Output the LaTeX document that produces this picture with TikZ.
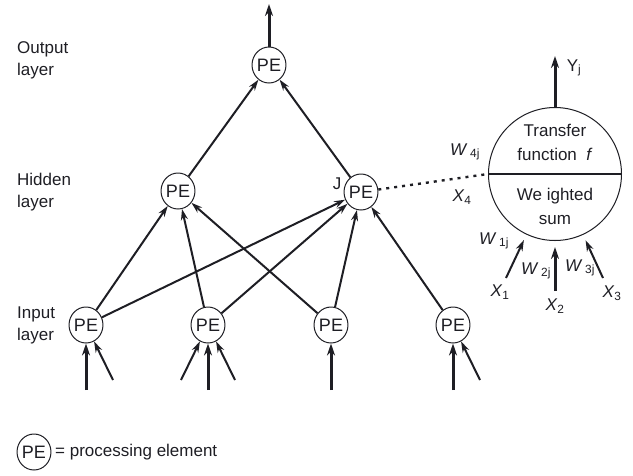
\documentclass[tikz,border=0pt]{standalone}
\usepackage{fontspec}
\setmainfont{Liberation Sans}
\usetikzlibrary{shapes.geometric,arrows.meta}
\definecolor{ink}{HTML}{1E1E24}
\begin{document}
\begin{tikzpicture}[x=1pt,y=-1pt,
  every node/.style={text=ink},
  pe/.style={ellipse,draw=ink,line width=1pt,minimum width=31pt,minimum height=36pt,inner sep=0pt,font=\fontsize{18}{18}\selectfont},
  tip/.style={-{Stealth[length=11pt,width=7pt]}},
  link/.style={draw=ink,line width=2pt,tip},
  feed/.style={draw=ink,line width=3pt,-{Stealth[length=12pt,width=8pt]}},
  lbl/.style={font=\fontsize{17}{22}\selectfont,align=left,anchor=west,inner sep=0pt},
  txt/.style={font=\fontsize{17}{18}\selectfont,inner sep=0pt},
  inner/.style={font=\fontsize{17}{24}\selectfont,align=center,inner sep=0pt}]
\useasboundingbox (0,0) rectangle (633,475);

% layer captions
\node[lbl] (capout) at (17,60) {Output\\layer};
\node[lbl] (caphid) at (17,192) {Hidden\\layer};
\node[lbl] (capin) at (17,325) {Input\\layer};

% processing elements
\node[pe] (out) at (269,65) {PE};
\node[pe] (h1) at (178,191) {PE};
\node[pe] (hJ) at (361,192) {PE};
\node[pe] (i1) at (86,325) {PE};
\node[pe] (i2) at (208,325) {PE};
\node[pe] (i3) at (331,325) {PE};
\node[pe] (i4) at (453,325) {PE};
\node[txt] (jlab) at (337,184) {J};

% hidden -> output
\draw[link] (h1) -- (out);
\draw[link] (hJ) -- (out);
% input -> hidden
\draw[link] (i1) -- (h1);
\draw[link] (i1) -- (hJ);
\draw[link] (i2) -- (h1);
\draw[link] (i2) -- (hJ);
\draw[link] (i3) -- (h1);
\draw[link] (i3) -- (hJ);
\draw[link] (i4) -- (hJ);

% network output
\coordinate (otop) at (269,4);
\draw[feed] (out) -- (otop);

% external inputs
\coordinate (a1) at (86,390);
\coordinate (b1) at (113,380);
\coordinate (c2) at (181,380);
\coordinate (a2) at (208,390);
\coordinate (b2) at (235,380);
\coordinate (a3) at (331,390);
\coordinate (a4) at (453,390);
\coordinate (b4) at (480,380);
\draw[feed] (a1) -- (i1);
\draw[link] (b1) -- (i1);
\draw[link] (c2) -- (i2);
\draw[feed] (a2) -- (i2);
\draw[link] (b2) -- (i2);
\draw[feed] (a3) -- (i3);
\draw[feed] (a4) -- (i4);
\draw[link] (b4) -- (i4);

% detail of processing element J
\node[circle,draw=ink,line width=1pt,minimum size=133pt,inner sep=0pt] (tf) at (555,174) {};
\draw[draw=ink,line width=1.3pt] (tf.west) -- (tf.east);
\node[inner] (upper) at (555,142) {Transfer\\function\ \ \textit{f}};
\node[inner] (lower) at (555,206) {We ighted\\sum};
\draw[draw=ink,line width=2.4pt,dash pattern=on 3pt off 5pt] (hJ) -- (tf.west);

\coordinate (ytop) at (555,56);
\draw[feed] (tf.north) -- (ytop);
\node[txt] (ylab) at (574,68) {Y\textsubscript{j}};

\coordinate (x1s) at (506,278);
\coordinate (x2s) at (555,291);
\coordinate (x3s) at (603,278);
\draw[link,shorten >=6pt] (x1s) -- (tf);
\draw[feed,shorten >=6pt] (x2s) -- (tf);
\draw[link,shorten >=6pt] (x3s) -- (tf);

\node[txt] (w4) at (465,152) {\textit{W}\,\textsubscript{4j}};
\node[txt] (x4) at (462,197) {\textit{X}\textsubscript{4}};
\node[txt] (w1) at (494,241) {\textit{W}\,\textsubscript{1j}};
\node[txt] (x1) at (500,292) {\textit{X}\textsubscript{1}};
\node[txt] (w2) at (536,271) {\textit{W}\,\textsubscript{2j}};
\node[txt] (x2) at (555,306) {\textit{X}\textsubscript{2}};
\node[txt] (w3) at (580,268) {\textit{W}\,\textsubscript{3j}};
\node[txt] (x3) at (612,293) {\textit{X}\textsubscript{3}};

% key
\node[pe] (key) at (34,452) {PE};
\node[lbl] (keytxt) at (55,452) {= processing element};
\end{tikzpicture}
\end{document}
